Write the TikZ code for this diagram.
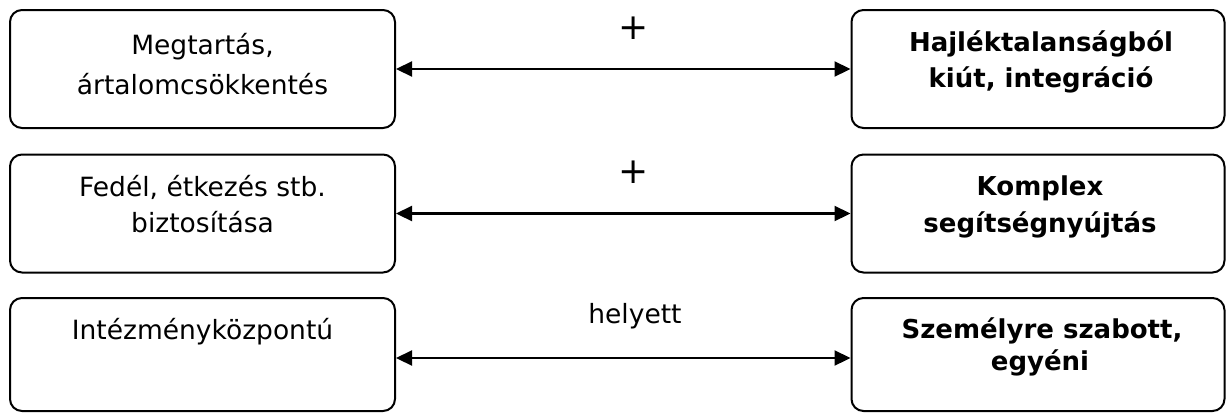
\documentclass[tikz,border=0pt]{standalone}
\usepackage{fontspec}
\setmainfont{DejaVu Sans}
\usetikzlibrary{arrows.meta}
\tikzset{
  box/.style={draw=black, line width=2pt, rounded corners=12pt, inner sep=0pt, fill=white},
  lbox/.style={box, minimum width=385pt, minimum height=118pt},
  rbox/.style={box, minimum width=373pt, minimum height=118pt},
  txt/.style={inner sep=0pt, anchor=base, font=\fontsize{26.5}{36}\selectfont},
  btxt/.style={txt, font=\fontsize{26}{36}\selectfont\bfseries},
  conn/.style={line width=2.2pt, {Triangle[length=16pt,width=15pt]}-{Triangle[length=16pt,width=15pt]}},
  lab/.style={inner sep=0pt, font=\fontsize{26.5}{36}\selectfont},
  plus/.style={inner sep=0pt, font=\fontsize{36}{40}\selectfont}
}
\begin{document}
\begin{tikzpicture}[x=1pt,y=-1pt]
\useasboundingbox (0,0) rectangle (1226,413);
% boxes
\node[lbox] (l1) at (202.5,69) {};
\node[lbox] (l2) at (202.5,213.5) {};
\node[lbox, minimum height=113pt] (l3) at (202.5,354.5) {};
\node[rbox] (r1) at (1038,69) {};
\node[rbox] (r2) at (1038,213.5) {};
\node[rbox, minimum height=113pt] (r3) at (1038,354.5) {};
% texts
\node[txt] (l1a) at (202.5,54) {Megtartás,};
\node[txt] (l1b) at (202.5,94) {ártalomcsökkentés};
\node[btxt] (r1a) at (1041,51) {Hajléktalanságból};
\node[btxt] (r1b) at (1041,87) {kiút, integráció};
\node[txt] (l2a) at (202.5,196) {Fedél, étkezés stb.};
\node[txt] (l2b) at (202.5,232) {biztosítása};
\node[btxt] (r2a) at (1040,195) {Komplex};
\node[btxt] (r2b) at (1040,232) {segítségnyújtás};
\node[txt] (l3a) at (202.5,339) {Intézményközpontú};
\node[btxt] (r3a) at (1042,338) {Személyre szabott,};
\node[btxt] (r3b) at (1040,370) {egyéni};
% connectors
\draw[conn] (l1.east) -- (r1.west);
\draw[conn] (l2.east) -- (r2.west);
\draw[conn] ([yshift=-3.5pt]l3.east) -- ([yshift=-3.5pt]r3.west);
% labels
\node[plus] (p1) at (634,28) {+};
\node[plus] (p2) at (634,172) {+};
\node[lab, anchor=base] (h3) at (635,323) {helyett};
\end{tikzpicture}
\end{document}
